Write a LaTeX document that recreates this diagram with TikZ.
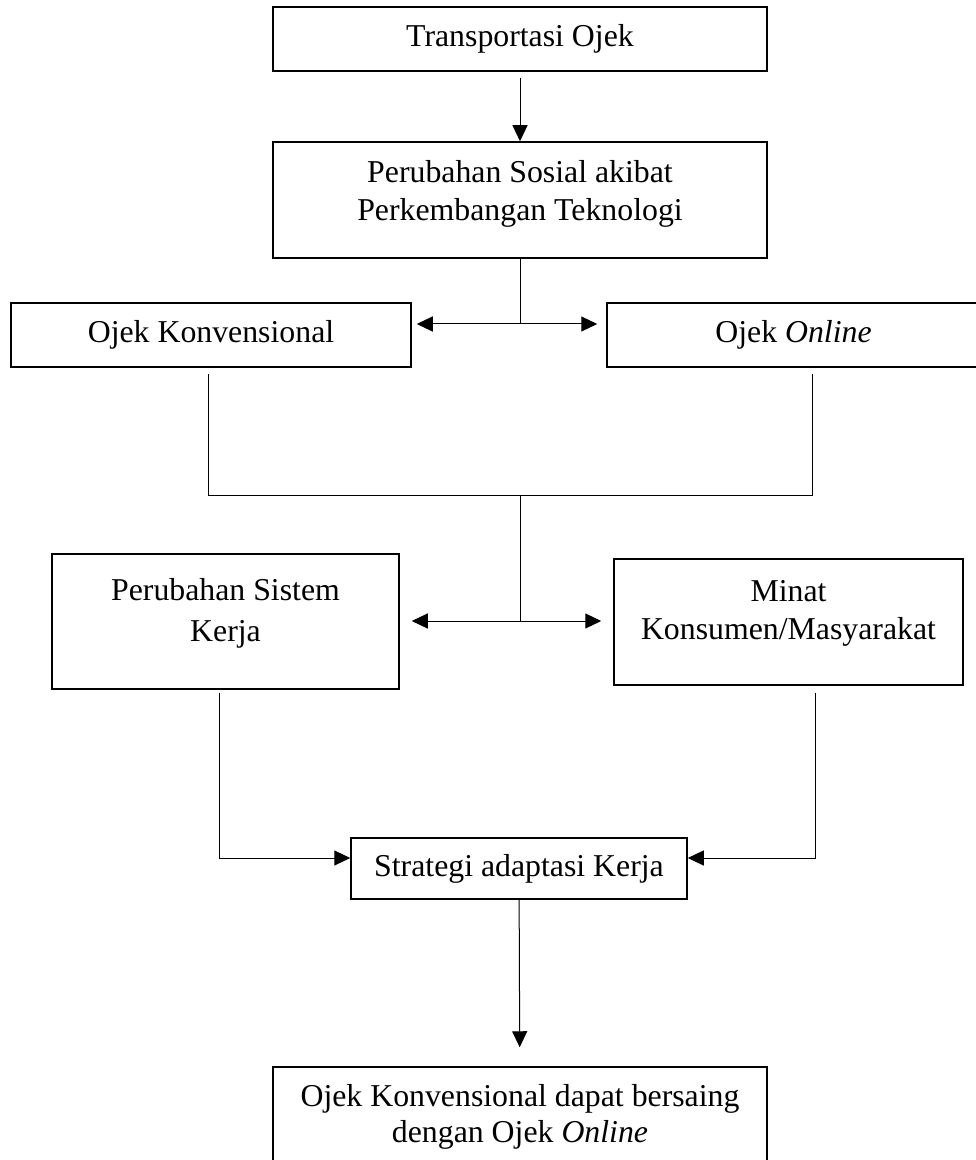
\documentclass[tikz,border=0pt]{standalone}
\usepackage{fontspec}
\setmainfont{Liberation Serif}
\usetikzlibrary{arrows.meta}

\tikzset{
  kotak/.style={draw, line width=0.75pt, align=center, inner sep=0pt,
    font=\fontsize{15.9pt}{18pt}\selectfont},
  garis/.style={line width=0.5pt}
}

\begin{document}
\begin{tikzpicture}[x=0.5pt, y=-0.5pt, >={Triangle[length=8pt,width=7.5pt]}, garis]
    \useasboundingbox (0, 0) rectangle (975, 1160);

    \path (520, 39) node [kotak, minimum width=247pt, minimum height=32pt] (tr) {Transportasi Ojek};
    \path (520, 200) node [kotak, minimum width=247pt, minimum height=58pt,
	font=\fontsize{15.9pt}{19pt}\selectfont, text depth=10pt] (ps)
	{Perubahan Sosial akibat\\Perkembangan Teknologi};
    \draw [->, shorten <=3pt] (tr) -- (ps);

    \path (211, 335) node [kotak, minimum width=200pt, minimum height=32pt] (ok) {Ojek Konvensional};
    \path (793.5, 335) node [kotak, minimum width=186.5pt, minimum height=32pt] (on) {Ojek \textit{Online}};
    \coordinate (j1) at (520, 324);
    \draw (ps) -- (j1);
    \draw [<->, shorten <=2.5pt, shorten >=4.5pt] (ok.east |- j1) -- (on.west |- j1);

    \coordinate (m1) at (208, 495);
    \coordinate (m2) at (812, 495);
    \coordinate (m3) at (520, 495);
    \draw [shorten <=3pt, shorten >=3pt] (m1 |- ok.south) -- (m1) -- (m2) -- (m2 |- on.south);

    \path (225.5, 621.5) node [kotak, minimum width=173.5pt, minimum height=67.5pt,
	font=\fontsize{15.9pt}{20.5pt}\selectfont, text depth=11.5pt] (psk)
	{Perubahan Sistem\\Kerja};
    \path (788.5, 622) node [kotak, minimum width=174.5pt, minimum height=63pt,
	font=\fontsize{15.9pt}{19pt}\selectfont, text depth=12pt] (mk)
	{Minat\\Konsumen/Masyarakat};
    \coordinate (j2) at (520, 621);
    \draw (m3) -- (j2);
    \draw [<->, shorten <=6pt, shorten >=6pt] (psk.east |- j2) -- (mk.west |- j2);

    \path (519, 868.5) node [kotak, minimum width=168pt, minimum height=30.5pt] (sa) {Strategi adaptasi Kerja};
    \coordinate (b1) at (219, 858);
    \coordinate (b2) at (815, 858);
    \draw [->, shorten <=1.5pt] (b1 |- psk.south) -- (b1) -- (sa.west |- b1);
    \draw [->, shorten <=3.5pt] (b2 |- mk.south) -- (b2) -- (sa.east |- b2);

    \path (520, 1118.5) node [kotak, minimum width=247pt, minimum height=51.5pt,
	text depth=5pt] (kb)
	{Ojek Konvensional dapat bersaing\\dengan Ojek \textit{Online}};
    \draw [->, shorten >=9.5pt] (sa) -- (kb);
\end{tikzpicture}
\end{document}
